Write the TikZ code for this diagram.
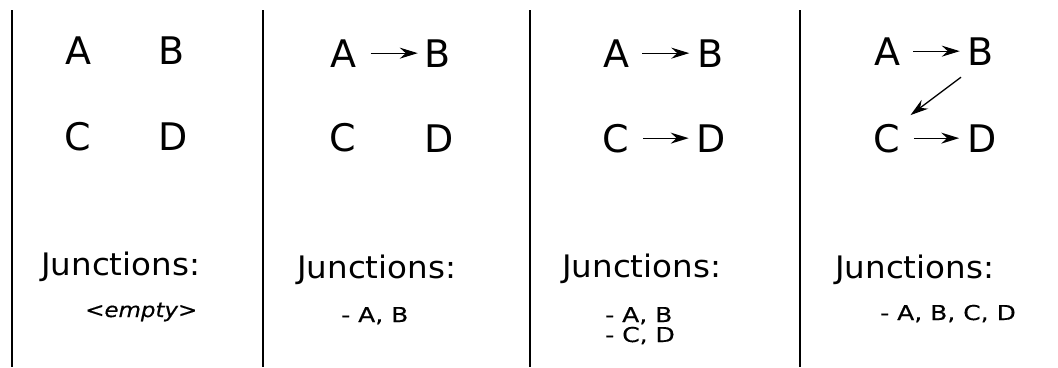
\documentclass[tikz,border=0pt]{standalone}
\usepackage{fontspec}
\setmainfont{DejaVu Sans}
\usetikzlibrary{arrows.meta,calc}
% widened faces for the headings and the junction lists
\newfontfamily\headingface[FakeStretch=1.05]{DejaVu Sans}
\newfontfamily\listface[FakeStretch=1.22,FakeBold=0.4]{DejaVu Sans}
\newfontfamily\emptyface[FakeStretch=1.12,FakeBold=0.4]{DejaVu Sans}
\begin{document}
\begin{tikzpicture}[x=1pt,y=-1pt,
  letter/.style={inner sep=0pt,anchor=base,text height=27.7pt,text depth=0pt,font={\fontsize{38}{40}\selectfont}},
  heading/.style={inner sep=0pt,anchor=base west,font={\headingface\fontsize{31}{36}\selectfont}},
  listing/.style={inner sep=0pt,anchor=base west,align=left,font={\listface\fontsize{20.5}{20}\selectfont}},
  divider/.style={line width=2.8pt},
  link/.style={line width=1.3pt,-{Stealth[length=18pt,width=11pt,inset=6pt]}}]
\useasboundingbox (0,0) rectangle (1058,367);

% panel dividers
\coordinate (t1) at (12,10);   \coordinate (b1) at (12,367);
\coordinate (t2) at (263,10);  \coordinate (b2) at (263,367);
\coordinate (t3) at (530,10);  \coordinate (b3) at (530,367);
\coordinate (t4) at (800,10);  \coordinate (b4) at (800,367);
\draw[divider] (t1) -- (b1);
\draw[divider] (t2) -- (b2);
\draw[divider] (t3) -- (b3);
\draw[divider] (t4) -- (b4);

% panel 1: no links
\node[letter] (a1) at (78,64) {A};
\node[letter] (b1n) at (172,64) {B};
\node[letter] (c1) at (78,150) {C};
\node[letter] (d1) at (173,150) {D};
\node[heading] (j1) at (41,275) {Junctions:};
\node[listing,font={\emptyface\fontsize{20.5}{20}\selectfont}] (l1) at (85,317) {\itshape <empty>};

% panel 2: A -> B
\node[letter] (a2) at (343.5,67) {A};
\node[letter] (b2n) at (438,67) {B};
\node[letter] (c2) at (343,151) {C};
\node[letter] (d2) at (439,152) {D};
\draw[link] ([xshift=14pt]a2.east) -- ([xshift=-7pt]b2n.west);
\node[heading] (j2) at (297,278) {Junctions:};
\node[listing] (l2) at (341,322) {- A, B};

% panel 3: A -> B, C -> D
\node[letter] (a3) at (616,67) {A};
\node[letter] (b3n) at (710.5,67) {B};
\node[letter] (c3) at (616,152) {C};
\node[letter] (d3) at (711.5,152) {D};
\draw[link] ([xshift=13pt]a3.east) -- ([xshift=-8pt]b3n.west);
\draw[link] ([xshift=14pt]c3.east) -- ([xshift=-8pt]d3.west);
\node[heading] (j3) at (562,277) {Junctions:};
\node[listing] (l3) at (605,342) {- A, B\\- C, D};

% panel 4: A -> B -> C -> D
\node[letter] (a4) at (887,65) {A};
\node[letter] (b4n) at (981,65) {B};
\node[letter] (c4) at (886.5,152) {C};
\node[letter] (d4) at (982,152) {D};
\draw[link] ([xshift=13pt]a4.east) -- ([xshift=-8pt]b4n.west);
\draw[link] ([xshift=14pt]c4.east) -- ([xshift=-8pt]d4.west);
\draw[link] ($(b4n.south)+(-20,12)$) -- ($(c4.north)+(24,-9)$);
\node[heading] (j4) at (835,278) {Junctions:};
\node[listing] (l4) at (880,320) {- A, B, C, D};
\end{tikzpicture}
\end{document}
